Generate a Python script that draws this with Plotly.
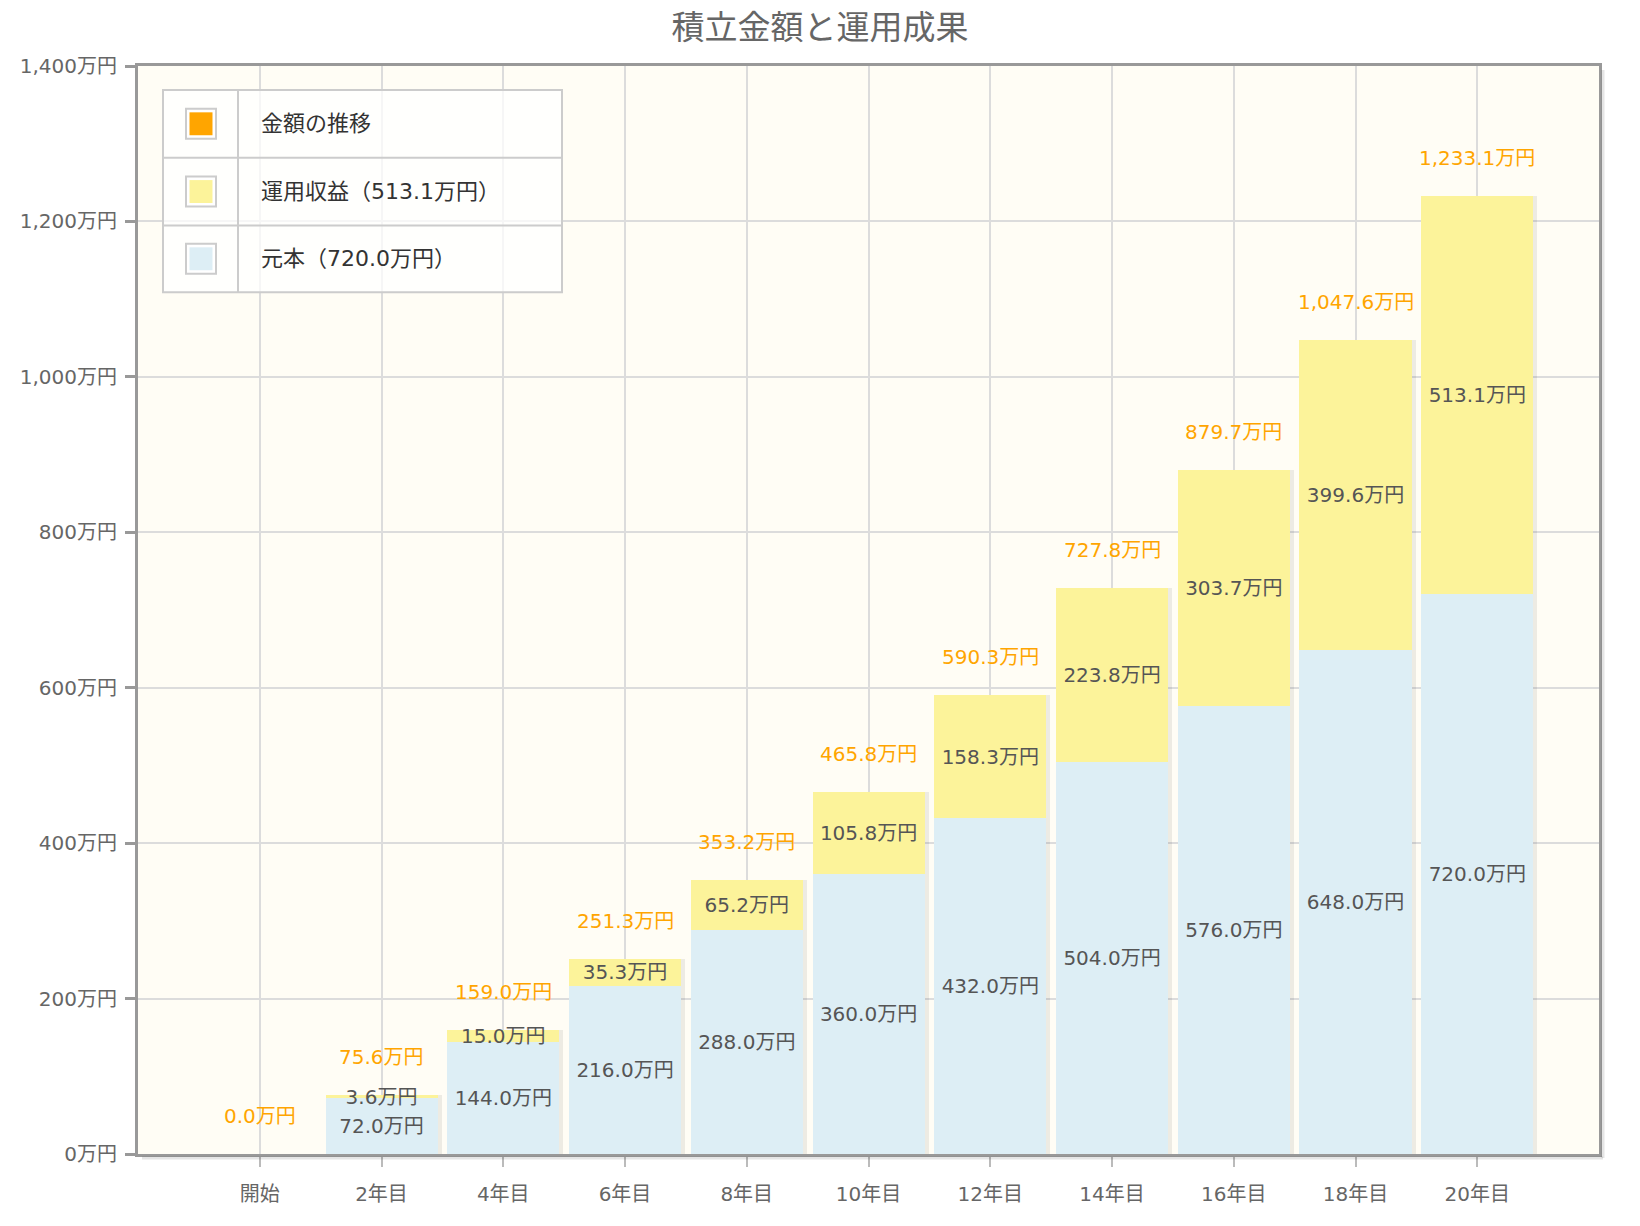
import plotly.graph_objects as go

# data (万円)
categories = ["開始", "2年目", "4年目", "6年目", "8年目", "10年目",
              "12年目", "14年目", "16年目", "18年目", "20年目"]
principal = [0.0, 72.0, 144.0, 216.0, 288.0, 360.0, 432.0, 504.0, 576.0, 648.0, 720.0]
profit = [0.0, 3.6, 15.0, 35.3, 65.2, 105.8, 158.3, 223.8, 303.7, 399.6, 513.1]
totals = [0.0, 75.6, 159.0, 251.3, 353.2, 465.8, 590.3, 727.8, 879.7, 1047.6, 1233.1]
y_ticks = [0, 200, 400, 600, 800, 1000, 1200, 1400]

FONT = "DejaVu Sans, Noto Sans CJK JP"
BLUE = "#DDEEF5"
YELLOW = "#FCF39A"
ORANGE = "#FFA500"

# page body keeps an 8px margin, so the figure is 16px smaller
W, H = 1624, 1210
PW, PH = 1461, 1092  # plot area in px
BAR_W = 0.92


def man(v):
    return f"{v:,.1f}万円"


fig = go.Figure()
# faint drop shadow behind the bars (base axis, drawn underneath)
fig.add_trace(go.Bar(
    x=categories, y=totals, width=BAR_W, offset=-BAR_W / 2 + 4 / 121.75,
    marker=dict(color="rgba(0,0,0,0.07)", line=dict(width=0)),
    showlegend=False, hoverinfo="skip",
))
fig.add_trace(go.Bar(
    x=categories, y=principal, name="元本", xaxis="x2", width=BAR_W,
    marker=dict(color=BLUE, line=dict(width=0)),
    text=[man(v) if v else "" for v in principal],
    textposition="inside", insidetextanchor="middle", constraintext="none",
    textangle=0, textfont=dict(family=FONT, size=20, color="#555"),
    showlegend=False, hoverinfo="skip",
))
fig.add_trace(go.Bar(
    x=categories, y=profit, name="運用収益", xaxis="x2", width=BAR_W,
    marker=dict(color=YELLOW, line=dict(width=0)),
    text=[man(v) if v else "" for v in profit],
    textposition="inside", insidetextanchor="middle", constraintext="none",
    textangle=0, textfont=dict(family=FONT, size=20, color="#555"),
    showlegend=False, hoverinfo="skip",
))

# totals above each bar
for c, t in zip(categories, totals):
    fig.add_annotation(x=c, y=t, yshift=38, text=man(t), showarrow=False,
                       font=dict(family=FONT, size=20, color=ORANGE))

# legend drawn as a bordered table
lx0, lx1, lxc = 25 / PW, 424 / PW, 100 / PW
ly_rows = [1 - 24 / PH, 1 - 92 / PH, 1 - 160 / PH, 1 - 227 / PH]
grid = "#CCCCCC"
shapes = [
    dict(type="rect", xref="paper", yref="paper", x0=lx0, x1=lx1,
         y0=ly_rows[-1], y1=ly_rows[0], line=dict(color=grid, width=2),
         fillcolor="rgba(255,255,255,0.75)", layer="above"),
    dict(type="line", xref="paper", yref="paper", x0=lxc, x1=lxc,
         y0=ly_rows[-1], y1=ly_rows[0], line=dict(color=grid, width=2), layer="above"),
]
for yr in ly_rows[1:3]:
    shapes.append(dict(type="line", xref="paper", yref="paper", x0=lx0, x1=lx1,
                       y0=yr, y1=yr, line=dict(color=grid, width=2), layer="above"))

legend_items = [
    ("金額の推移", ORANGE),
    (f"運用収益（{man(profit[-1])}）", YELLOW),
    (f"元本（{man(principal[-1])}）", BLUE),
]
sx = 63 / PW
for i, (label, col) in enumerate(legend_items):
    yc = (ly_rows[i] + ly_rows[i + 1]) / 2
    shapes.append(dict(type="rect", xref="paper", yref="paper",
                       x0=sx - 15 / PW, x1=sx + 15 / PW,
                       y0=yc - 15 / PH, y1=yc + 15 / PH,
                       line=dict(color=grid, width=2), fillcolor="white", layer="above"))
    shapes.append(dict(type="rect", xref="paper", yref="paper",
                       x0=sx - 11.5 / PW, x1=sx + 11.5 / PW,
                       y0=yc - 11.5 / PH, y1=yc + 11.5 / PH,
                       line=dict(width=0), fillcolor=col, layer="above"))
    fig.add_annotation(xref="paper", yref="paper", x=121 / PW, y=yc, xanchor="left",
                       yanchor="middle", text=label, showarrow=False,
                       font=dict(family=FONT, size=22, color="#333"))

# soft shadow of the plot frame
shapes.append(dict(type="line", xref="paper", yref="paper", x0=1 + 4 / PW, x1=1 + 4 / PW,
                   y0=-4 / PH, y1=1 - 4 / PH, line=dict(color="rgba(0,0,0,0.10)", width=3)))
shapes.append(dict(type="line", xref="paper", yref="paper", x0=4 / PW, x1=1 + 4 / PW,
                   y0=-4 / PH, y1=-4 / PH, line=dict(color="rgba(0,0,0,0.10)", width=3)))

fig.update_layout(
    width=W, height=H,
    margin=dict(l=130, r=W - 130 - PW, t=58, b=H - 58 - PH),
    barmode="stack",
    paper_bgcolor="white", plot_bgcolor="#FFFDF5",
    font=dict(family=FONT, size=20, color="#666"),
    title=dict(text="積立金額と運用成果", x=812 / W, xanchor="center",
               y=1 - 19 / H, yanchor="middle",
               font=dict(family=FONT, size=33, color="#666")),
    shapes=shapes,
    xaxis=dict(
        type="category", range=[-1, 11],
        showgrid=True, gridcolor="#DCDCDC", gridwidth=2,
        showline=True, linecolor="#999", linewidth=3, mirror=True,
        ticks="outside", ticklen=10, tickwidth=2, tickcolor="#BBB",
        ticklabelstandoff=10,
        tickfont=dict(family=FONT, size=20, color="#666"),
    ),
    xaxis2=dict(type="category", overlaying="x", matches="x", visible=False,
                showgrid=False),
)
fig.update_yaxes(
    range=[0, 1400], tickvals=y_ticks,
    ticktext=[f"{v:,}万円" for v in y_ticks],
    showgrid=True, gridcolor="#DCDCDC", gridwidth=2, zeroline=False,
    showline=True, linecolor="#999", linewidth=3, mirror=True,
    ticks="outside", ticklen=10, tickwidth=3, tickcolor="#999",
    ticklabelstandoff=4,
    tickfont=dict(family=FONT, size=20, color="#666"),
)

fig.write_html("out.html")
